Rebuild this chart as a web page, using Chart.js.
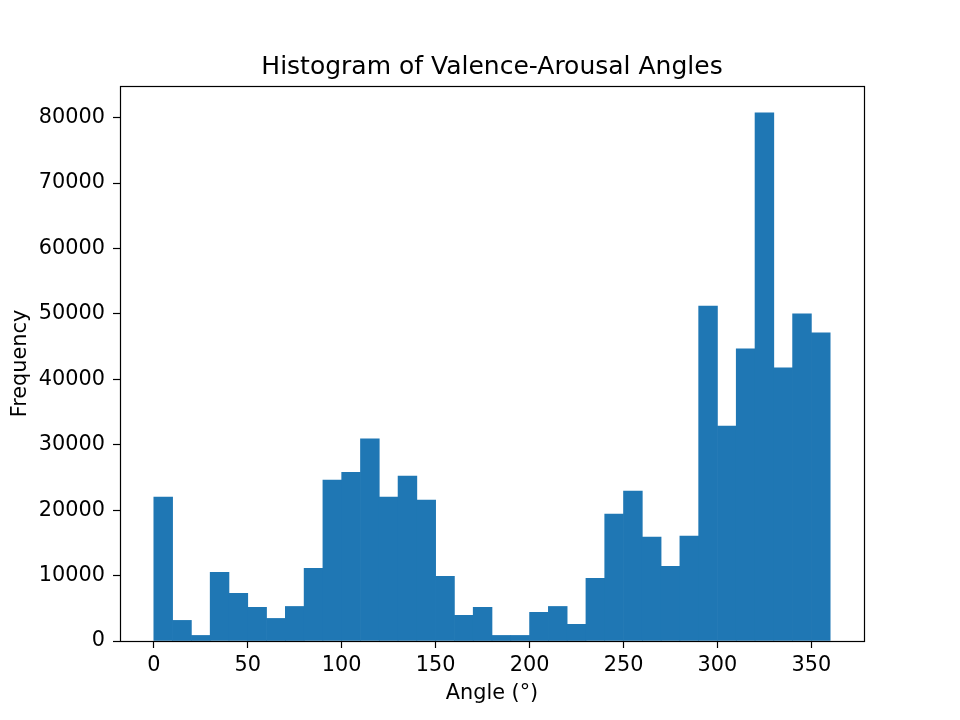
<!DOCTYPE html>
<html>
<head>
<meta charset="utf-8">
<script src="https://cdn.jsdelivr.net/npm/chart.js@4"></script>
<style>
  html, body { margin: 0; padding: 0; background: #fff; }
</style>
</head>
<body>
<canvas id="myChart" width="960" height="720"></canvas>
<script>
// bin centres (degrees), 10 degree bins from 0 to 360
const binCenters = [5, 15, 25, 35, 45, 55, 65, 75, 85, 95, 105, 115, 125, 135, 145, 155, 165, 175,
  185, 195, 205, 215, 225, 235, 245, 255, 265, 275, 285, 295, 305, 315, 325, 335, 345, 355];
const counts = [22000, 3150, 850, 10500, 7280, 5150, 3450, 5280, 11100, 24600, 25800, 30900,
  22000, 25200, 21550, 9900, 3920, 5150, 850, 850, 4380, 5280, 2550, 9580, 19400, 22900,
  15900, 11420, 16050, 51200, 32850, 44650, 80750, 41750, 50000, 47100];
const xTicks = [0, 50, 100, 150, 200, 250, 300, 350];
const yTicks = [0, 10000, 20000, 30000, 40000, 50000, 60000, 70000, 80000];

const font = "'DejaVu Sans', sans-serif";
const ctx = document.getElementById('myChart');

// matplotlib style box round the plot area
var frame = {
  id: 'frame',
  afterDraw(chart) {
    const a = chart.chartArea;
    const c = chart.ctx;
    c.save();
    c.strokeStyle = '#000';
    c.lineWidth = 1.2;
    c.strokeRect(Math.round(a.left) + 0.5, Math.round(a.top) + 0.5,
      Math.round(a.right - a.left), Math.round(a.bottom - a.top));
    c.restore();
  }
};

var chart = new Chart(ctx, {
  type: 'bar',
  data: {
    datasets: [{
      data: binCenters.map((x, i) => ({ x: x, y: counts[i] })),
      backgroundColor: '#1f77b4',
      borderWidth: 0,
      barPercentage: 1,
      categoryPercentage: 1
    }]
  },
  options: {
    responsive: false,
    animation: false,
    devicePixelRatio: 1,
    layout: { padding: { left: 0, right: 96, top: 0, bottom: 0 } },
    plugins: {
      legend: { display: false },
      tooltip: { enabled: false },
      title: {
        display: true,
        fullSize: false,
        text: 'Histogram of Valence-Arousal Angles',
        color: '#000',
        font: { family: font, size: 25, weight: 'normal', lineHeight: 1.2 },
        padding: { top: 52, bottom: 4 }
      }
    },
    scales: {
      x: {
        type: 'linear',
        offset: false,
        min: -18,
        max: 378,
        afterBuildTicks: s => { s.ticks = xTicks.map(v => ({ value: v })); },
        afterFit: s => { s.height = 79; },
        grid: { display: true, offset: false, drawOnChartArea: false, drawTicks: true, tickLength: 7, tickColor: '#000', tickWidth: 1.2 },
        border: { display: false },
        ticks: { color: '#000', font: { family: font, size: 20.8 }, maxRotation: 0, autoSkip: false, padding: 5,
          callback: v => String(v) },
        title: { display: true, text: 'Angle (°)', color: '#000', font: { family: font, size: 20.8 }, padding: { top: 0, bottom: 14 } }
      },
      y: {
        min: 0,
        max: 84840,
        afterBuildTicks: s => { s.ticks = yTicks.map(v => ({ value: v })); },
        afterFit: s => { s.width = 120; },
        grid: { display: true, drawOnChartArea: false, drawTicks: true, tickLength: 7, tickColor: '#000', tickWidth: 1.2 },
        border: { display: false },
        ticks: { color: '#000', font: { family: font, size: 20.8 }, autoSkip: false, padding: 8,
          callback: v => String(v) },
        title: { display: true, text: 'Frequency', color: '#000', font: { family: font, size: 20.8 }, padding: { top: 8, bottom: 0 } }
      }
    }
  },
  plugins: [frame]
});
</script>
</body>
</html>
